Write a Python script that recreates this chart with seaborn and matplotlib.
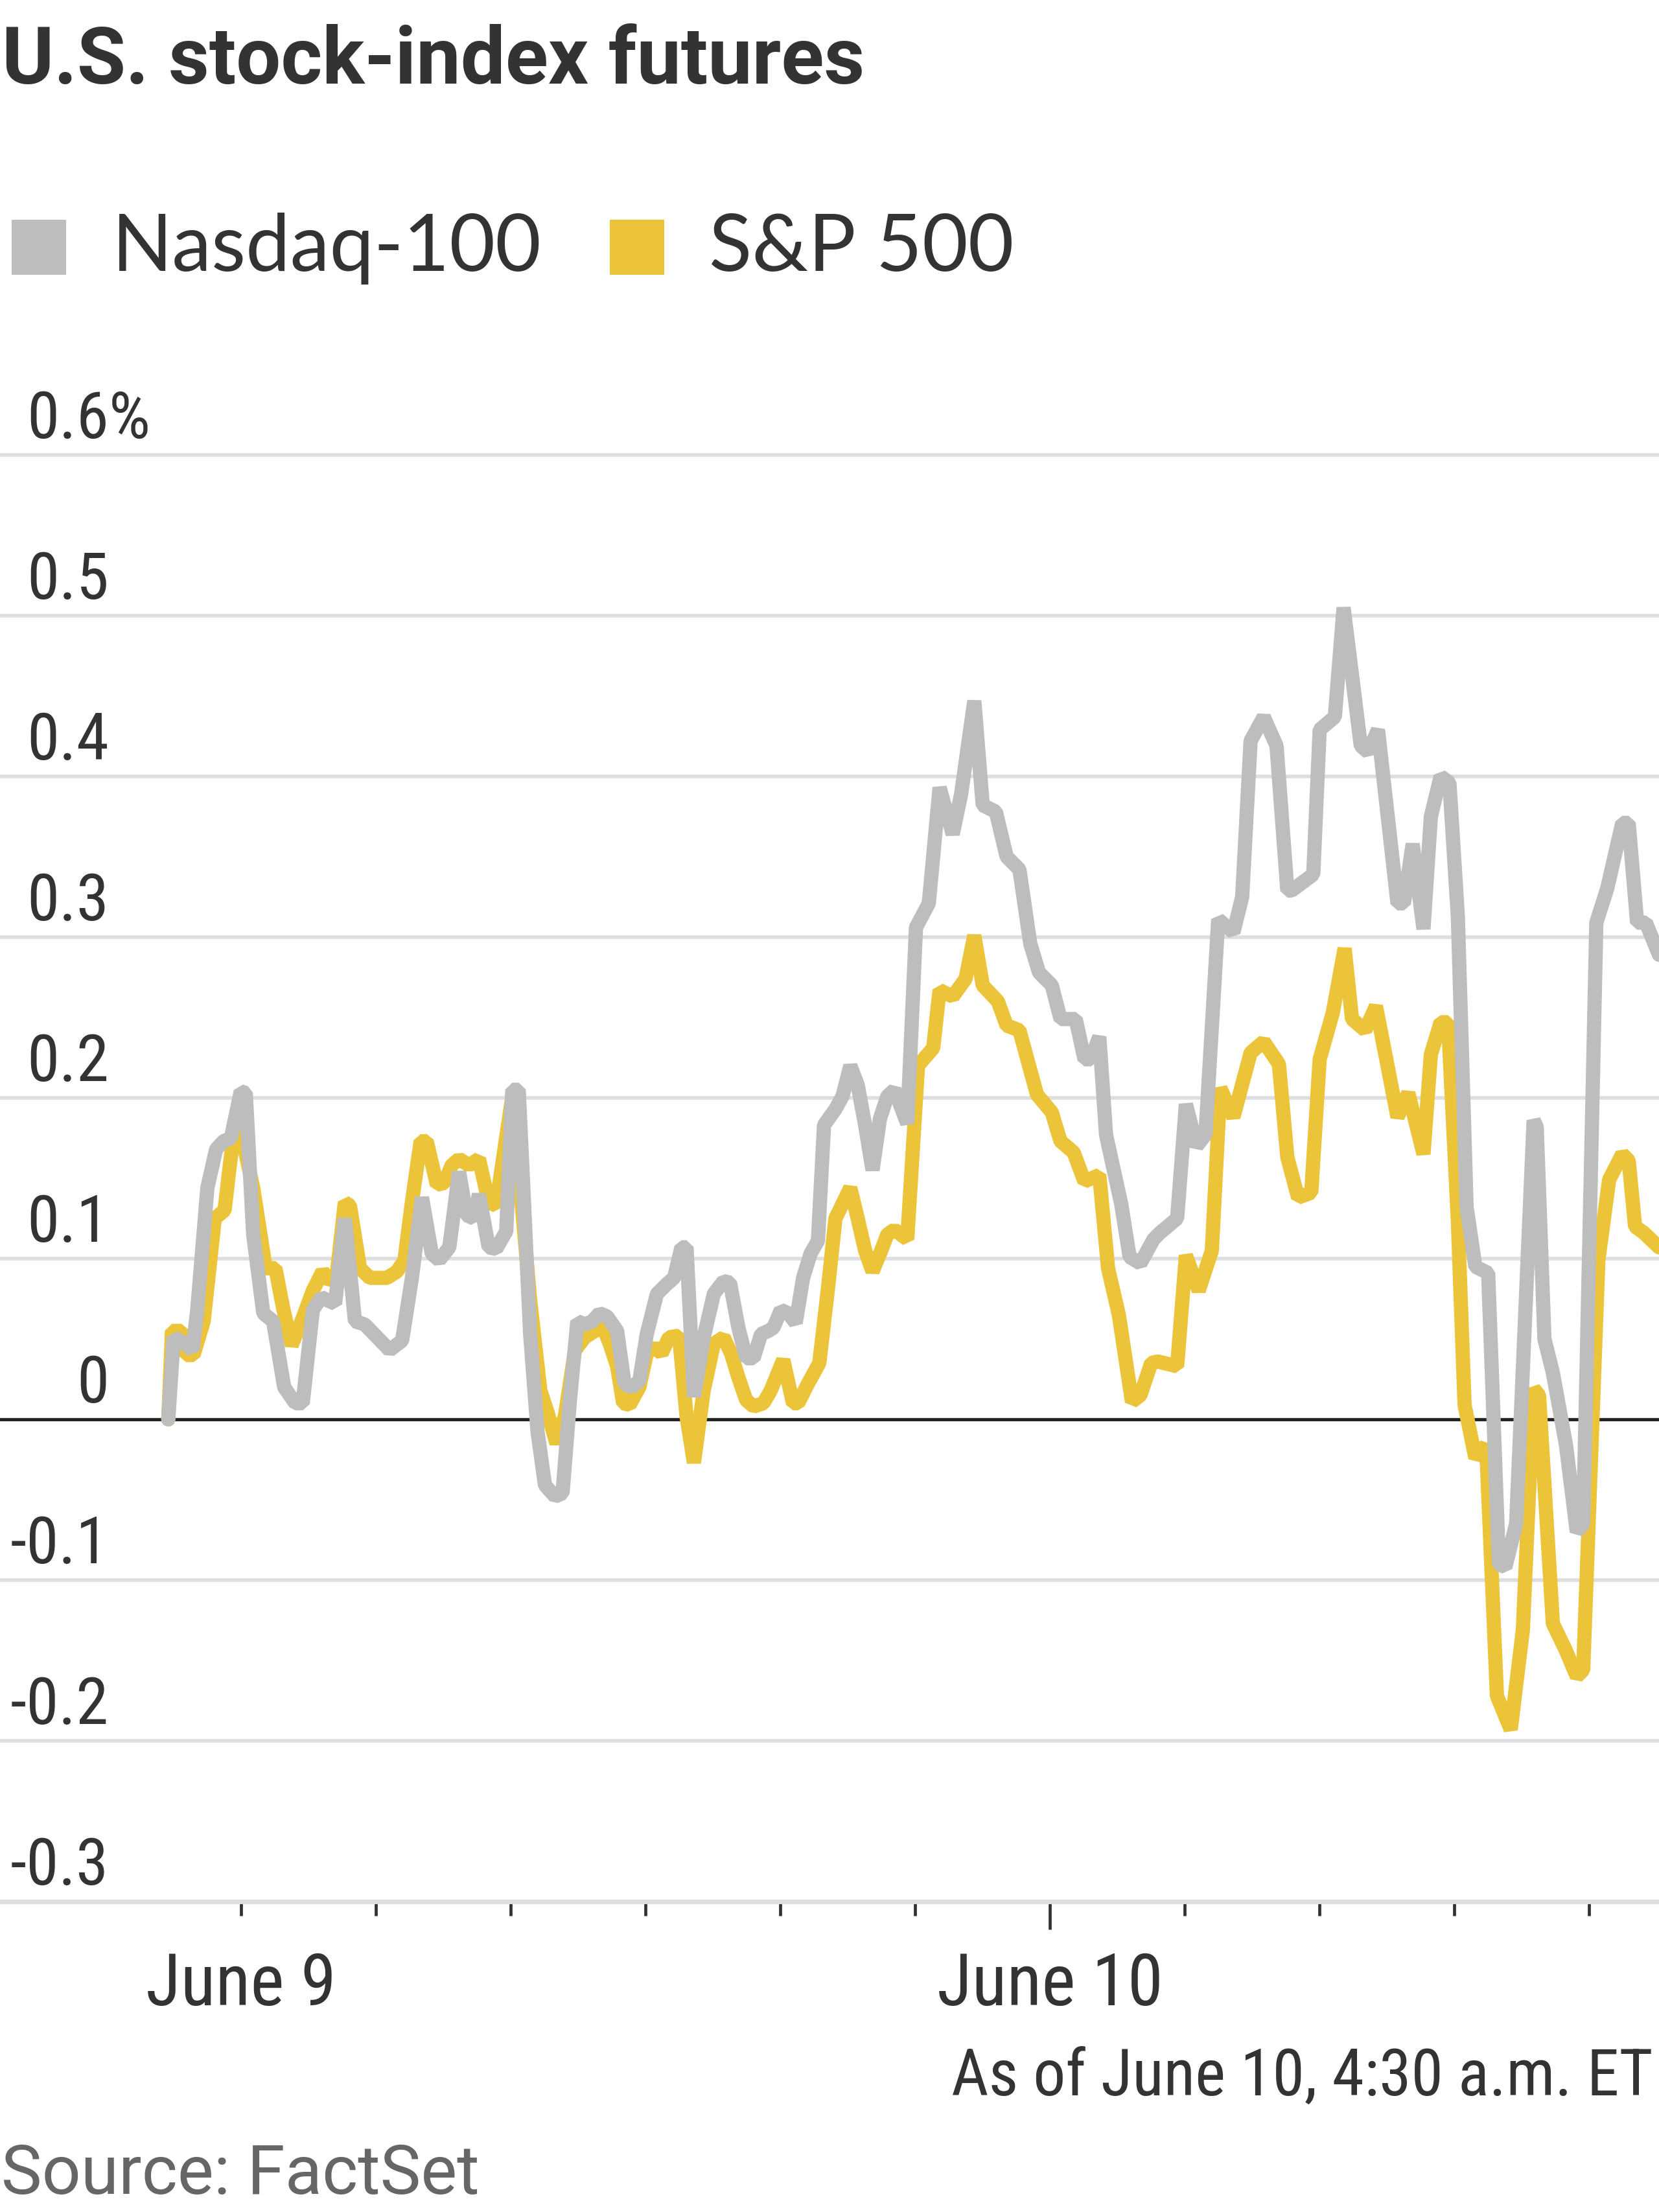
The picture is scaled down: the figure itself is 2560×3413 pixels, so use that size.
"""U.S. stock-index futures: intraday percent change, Nasdaq-100 vs S&P 500."""

import matplotlib

matplotlib.use("Agg")
import matplotlib.pyplot as plt
from matplotlib.patches import Rectangle
import seaborn as sns
import pandas as pd

# Hours relative to June 9, 00:00 and percent change
nasdaq_hours = [
    -2.16, -2.0, -1.66, -1.44, -1.3, -1.0, -0.74, -0.52, -0.3, -0.01,
    0.14, 0.36, 0.66, 0.95, 1.28, 1.61, 1.83, 2.13, 2.38, 2.57,
    2.79, 3.08, 3.38, 3.67, 4.04, 4.41, 4.78, 5.07, 5.37, 5.66,
    5.88, 6.18, 6.47, 6.69, 6.91, 7.06, 7.35, 7.57, 7.87, 8.05,
    8.24, 8.58, 8.8, 9.02, 9.32, 9.54, 9.76, 9.98, 10.2, 10.42,
    10.64, 10.86, 11.16, 11.38, 11.6, 11.82, 12.04, 12.34, 12.63, 12.85,
    13.07, 13.22, 13.44, 13.73, 14.03, 14.32, 14.51, 14.76, 14.99, 15.21,
    15.43, 15.65, 15.8, 16.02, 16.24, 16.46, 16.68, 16.9, 17.12, 17.3,
    17.64, 17.85, 18.08, 18.3, 18.52, 18.74, 18.96, 19.18, 19.39, 19.77,
    20.03, 20.41, 20.73, 21.12, 21.37, 21.76, 22.01, 22.4, 22.72, 23.1,
    23.42, 23.68, 24.06, 24.32, 24.77, 25.03, 25.22, 25.47, 25.67, 26.12,
    26.37, 26.69, 27.08, 27.27, 27.78, 28.04, 28.36, 28.62, 29.0, 29.45,
    29.71, 29.96, 30.35, 30.73, 31.05, 31.18, 31.82, 32.01, 32.46, 32.72,
    33.23, 33.45, 33.74, 34.32, 34.51, 34.77, 35.09, 35.31, 35.6, 35.86,
    36.11, 36.37, 36.63, 37.01, 37.33, 37.52, 37.84, 38.36, 38.45, 38.68,
    38.93, 39.32, 39.64, 39.83, 40.22, 40.54, 40.99, 41.18, 41.43, 41.69,
    42.08,
]
nasdaq_change = [
    0.0, 0.051, 0.047, 0.043, 0.068, 0.144, 0.168, 0.173, 0.175, 0.204,
    0.203, 0.115, 0.066, 0.061, 0.020, 0.010, 0.010, 0.068, 0.076, 0.074,
    0.072, 0.125, 0.061, 0.059, 0.051, 0.043, 0.049, 0.088, 0.138, 0.103,
    0.099, 0.107, 0.154, 0.127, 0.125, 0.140, 0.107, 0.106, 0.117, 0.205,
    0.205, 0.053, -0.008, -0.041, -0.048, -0.046, 0.012, 0.061, 0.059, 0.061,
    0.066, 0.064, 0.055, 0.022, 0.020, 0.024, 0.053, 0.078, 0.084, 0.088,
    0.107, 0.107, 0.014, 0.051, 0.078, 0.086, 0.085, 0.057, 0.038, 0.038,
    0.053, 0.055, 0.057, 0.068, 0.066, 0.060, 0.088, 0.103, 0.111, 0.183,
    0.193, 0.201, 0.220, 0.208, 0.183, 0.155, 0.187, 0.201, 0.205, 0.184,
    0.306, 0.321, 0.393, 0.364, 0.389, 0.447, 0.382, 0.378, 0.350, 0.342,
    0.296, 0.278, 0.270, 0.249, 0.249, 0.224, 0.224, 0.238, 0.177, 0.134,
    0.101, 0.097, 0.112, 0.116, 0.125, 0.196, 0.170, 0.177, 0.311, 0.303,
    0.325, 0.422, 0.437, 0.419, 0.329, 0.329, 0.339, 0.429, 0.437, 0.505,
    0.419, 0.415, 0.429, 0.321, 0.321, 0.358, 0.305, 0.375, 0.400, 0.396,
    0.313, 0.132, 0.095, 0.091, -0.090, -0.092, -0.065, 0.186, 0.182, 0.050,
    0.029, -0.016, -0.070, -0.065, 0.309, 0.330, 0.371, 0.371, 0.309, 0.309,
    0.289,
]

sp_hours = [
    -2.16, -2.05, -1.77, -1.63, -1.41, -1.11, -0.78, -0.49, -0.3, -0.16,
    -0.05, 0.36, 0.73, 1.02, 1.24, 1.5, 1.83, 2.13, 2.42, 2.64,
    2.83, 3.08, 3.23, 3.53, 3.82, 4.33, 4.63, 4.85, 5.07, 5.33,
    5.51, 5.81, 6.03, 6.25, 6.47, 6.76, 7.06, 7.35, 7.57, 8.05,
    8.58, 8.88, 9.1, 9.36, 9.61, 9.91, 10.2, 10.5, 10.75, 10.94,
    11.16, 11.34, 11.53, 11.82, 12.04, 12.26, 12.48, 12.7, 13.0, 13.22,
    13.44, 13.73, 14.03, 14.32, 14.54, 14.76, 14.99, 15.21, 15.5, 15.72,
    16.09, 16.38, 16.53, 16.82, 17.16, 17.41, 17.64, 18.08, 18.3, 18.52,
    18.74, 18.96, 19.18, 19.39, 19.77, 20.09, 20.54, 20.73, 21.12, 21.5,
    21.76, 22.01, 22.46, 22.72, 23.1, 23.62, 24.06, 24.32, 24.71, 25.03,
    25.47, 25.73, 26.05, 26.44, 26.69, 27.01, 27.2, 27.78, 28.04, 28.42,
    28.81, 29.06, 29.45, 29.96, 30.35, 30.8, 31.05, 31.37, 31.76, 32.01,
    32.4, 32.75, 32.97, 33.36, 33.68, 34.32, 34.64, 35.09, 35.31, 35.6,
    35.82, 36.11, 36.31, 36.63, 36.95, 37.27, 37.68, 38.04, 38.36, 38.52,
    38.93, 39.32, 39.64, 39.83, 40.28, 40.6, 40.99, 41.18, 41.37, 41.63,
    42.08,
]
sp_change = [
    0.0, 0.055, 0.055, 0.040, 0.040, 0.061, 0.125, 0.130, 0.164, 0.181,
    0.183, 0.144, 0.094, 0.094, 0.070, 0.046, 0.063, 0.080, 0.092, 0.086,
    0.088, 0.135, 0.133, 0.094, 0.088, 0.088, 0.092, 0.099, 0.135, 0.173,
    0.173, 0.146, 0.147, 0.158, 0.162, 0.158, 0.162, 0.135, 0.133, 0.201,
    0.074, 0.018, 0.004, -0.015, 0.002, 0.043, 0.051, 0.055, 0.057, 0.047,
    0.033, 0.010, 0.009, 0.020, 0.041, 0.045, 0.041, 0.051, 0.052, 0.002,
    -0.027, 0.018, 0.047, 0.051, 0.041, 0.026, 0.012, 0.008, 0.010, 0.018,
    0.037, 0.010, 0.010, 0.022, 0.035, 0.080, 0.125, 0.144, 0.125, 0.105,
    0.092, 0.103, 0.115, 0.118, 0.112, 0.220, 0.231, 0.267, 0.263, 0.274,
    0.301, 0.270, 0.260, 0.245, 0.242, 0.202, 0.191, 0.173, 0.166, 0.148,
    0.152, 0.094, 0.065, 0.011, 0.015, 0.035, 0.036, 0.033, 0.102, 0.080,
    0.105, 0.206, 0.188, 0.228, 0.235, 0.221, 0.163, 0.138, 0.141, 0.224,
    0.253, 0.293, 0.249, 0.242, 0.257, 0.188, 0.203, 0.165, 0.227, 0.247,
    0.247, 0.124, 0.009, -0.024, -0.016, -0.172, -0.193, -0.131, 0.019, 0.015,
    -0.127, -0.144, -0.160, -0.156, 0.099, 0.149, 0.165, 0.161, 0.120, 0.116,
    0.107,
]

series_names = ["Nasdaq-100", "S&P 500"]
series_colors = ["#bdbdbd", "#ebc43a"]

y_ticks = [-0.3, -0.2, -0.1, 0, 0.1, 0.2, 0.3, 0.4, 0.5, 0.6]
y_labels = ["-0.3", "-0.2", "-0.1", "0", "0.1", "0.2", "0.3", "0.4", "0.5", "0.6"]
x_ticks = [0, 4, 8, 12, 16, 20, 24, 28, 32, 36, 40]
x_labels = {0: "June 9", 24: "June 10"}

W, H = 2560, 3413
NARROW = ["Roboto Condensed", "Liberation Sans Narrow", "DejaVu Sans"]
DARK = "#333333"
LINE_PX = 22  # stroke width of the two series, in output pixels

df = pd.concat(
    [
        pd.DataFrame({"hours": nasdaq_hours, "change": nasdaq_change, "index": series_names[0]}),
        pd.DataFrame({"hours": sp_hours, "change": sp_change, "index": series_names[1]}),
    ],
    ignore_index=True,
)

sns.set_style("white")
fig = plt.figure(figsize=(W / 100, H / 100), dpi=100)
ax = fig.add_axes([0, 1 - 2934 / H, 1, (2934 - 677) / H])


def fy(px):
    return 1 - px / H


# draw S&P first so the Nasdaq line sits on top
sns.lineplot(
    data=df, x="hours", y="change", hue="index",
    hue_order=[series_names[1], series_names[0]],
    palette=dict(zip(series_names, series_colors)),
    estimator=None, sort=False, legend=False, ax=ax, zorder=3,
)
for line in ax.get_lines():
    line.set_linewidth(LINE_PX * 72 / 100)
    line.set_solid_joinstyle("bevel")

ax.set_xlim(-7.154, 42.08)
ax.set_ylim(-0.3, 0.61)

# gridlines and zero line
ax.set_yticks(y_ticks)
ax.tick_params(axis="y", left=False, labelleft=False)
ax.grid(axis="y", color="#dedede", linewidth=4.0, zorder=0)
ax.axhline(0, color="#222222", linewidth=3.5, zorder=2)

for spine in ["top", "right", "left"]:
    ax.spines[spine].set_visible(False)
ax.spines["bottom"].set_color("#dedede")
ax.spines["bottom"].set_linewidth(5.0)

# x ticks: short ticks every 4 hours, a longer one at June 10
ax.set_xticks([24], [x_labels[24]])
ax.set_xticks([t for t in x_ticks if t != 24],
              [x_labels.get(t, "") for t in x_ticks if t != 24], minor=True)
ax.tick_params(axis="x", which="major", bottom=True, direction="out", length=31,
               width=3.4, color=DARK, pad=24, labelsize=80, labelcolor=DARK)
ax.tick_params(axis="x", which="minor", bottom=True, direction="out", length=15.5,
               width=3.4, color=DARK, pad=39.5, labelsize=80, labelcolor=DARK)
for lab in ax.get_xticklabels(which="both"):
    lab.set_family(NARROW)
ax.set_xlabel("")
ax.set_ylabel("")

# y labels sit above their gridlines
for v, lab in zip(y_ticks, y_labels):
    ax.text(168 / W, v + 0.0105, lab, transform=ax.get_yaxis_transform(),
            ha="right", va="baseline", fontsize=73, color=DARK, family=NARROW)
ax.text(168 / W, 0.6 + 0.0105, "%", transform=ax.get_yaxis_transform(),
        ha="left", va="baseline", fontsize=73, color=DARK, family=NARROW)

# title
fig.text(3 / W, fy(129), "U.S. stock-index futures", ha="left", va="baseline",
         fontsize=88, fontweight="bold", color=DARK,
         family=["Roboto", "DejaVu Sans"])

# legend
legend_items = [(18, 173), (941, 1094)]
for (sq_x, tx_x), name, color in zip(legend_items, series_names, series_colors):
    fig.add_artist(Rectangle((sq_x / W, fy(424)), 84 / W, 85 / H,
                             transform=fig.transFigure, color=color, lw=0))
    fig.text(tx_x / W, fy(418), name, ha="left", va="baseline", fontsize=88,
             color=DARK, family=["Lato", "DejaVu Sans"])

# footer notes
fig.text(2551 / W, fy(3233), "As of June 10, 4:30 a.m. ET", ha="right",
         va="baseline", fontsize=72, color=DARK, family=NARROW)
fig.text(2 / W, fy(3385), "Source: FactSet", ha="left", va="baseline",
         fontsize=76, color="#666666", family=["Roboto", "DejaVu Sans"])

fig.savefig("out.png", dpi=100)
